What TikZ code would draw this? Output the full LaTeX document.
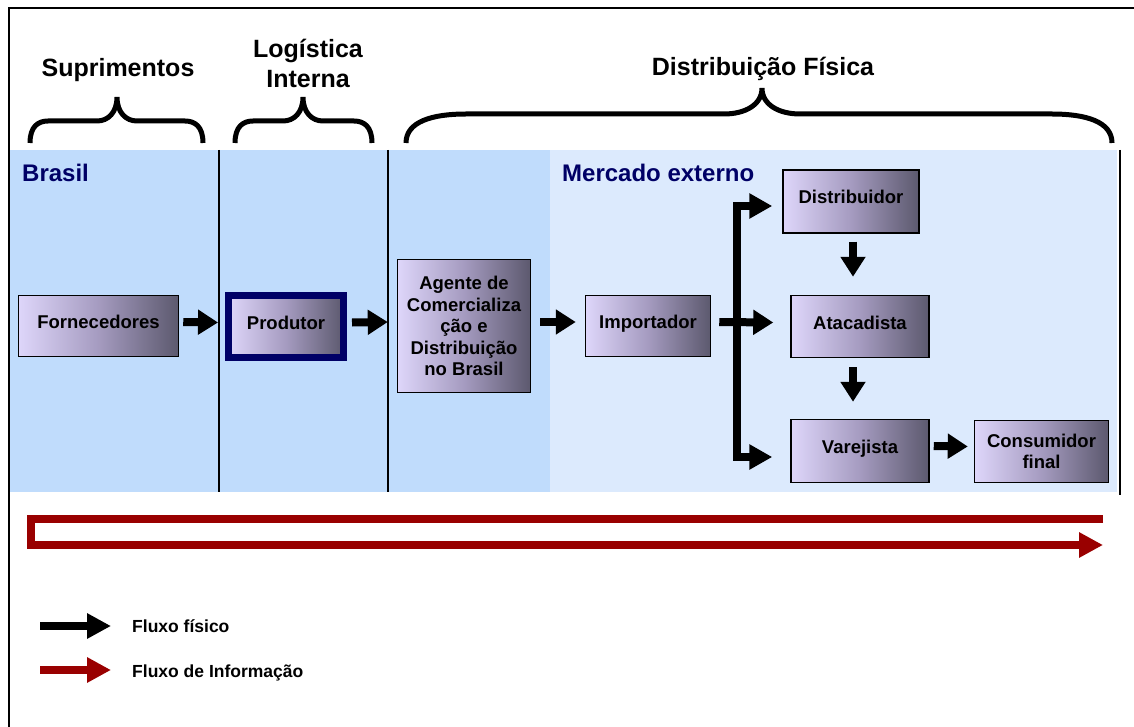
\documentclass[tikz,border=0pt]{standalone}
\usepackage{fontspec}
\setmainfont{Liberation Sans}
\usetikzlibrary{arrows.meta,calc}
\definecolor{bluedark}{RGB}{192,220,252}
\definecolor{bluelight}{RGB}{220,234,253}
\definecolor{navy}{RGB}{0,0,102}
\definecolor{lav}{RGB}{222,214,250}
\definecolor{midv}{RGB}{165,155,192}
\definecolor{dkv}{RGB}{92,89,110}
\definecolor{infored}{RGB}{153,0,0}
\newcommand{\mybrace}[8]{%
\draw[bracestyle] (#1,#4) .. controls ({#1},{#4-0.75*(#4-#5)}) and ({#1+0.45*#7},{#5}) .. ({#1+#7},{#5}) -- ({#3-#8},{#5}) .. controls ({#3-0.45*#8},{#5}) and ({#3},{#5-0.35*(#5-#6)}) .. ({#3},{#6}) .. controls ({#3},{#5-0.35*(#5-#6)}) and ({#3+0.45*#8},{#5}) .. ({#3+#8},{#5}) -- ({#2-#7},{#5}) .. controls ({#2-0.45*#7},{#5}) and ({#2},{#4-0.75*(#4-#5)}) .. (#2,#4);}
\tikzset{
  bracestyle/.style={line width=5pt},
  title/.style={font=\fontsize{25}{30}\selectfont\bfseries, inner sep=0pt, align=center},
  region/.style={font=\fontsize{24}{28}\selectfont\bfseries, text=navy, inner sep=0pt, anchor=base west},
  box/.style={draw=black, line width=1.5pt, left color=lav, right color=dkv, middle color=midv,
    font=\fontsize{18.5}{21.5}\selectfont\bfseries, align=center, inner sep=2pt},
  raised/.style={text height=13pt, text depth=8pt},
  farrow/.style={line width=8pt, -{Triangle[length=20pt,width=24pt]}},
  legendtext/.style={font=\fontsize{17.5}{20}\selectfont\bfseries, inner sep=0pt, anchor=base west}
}
\begin{document}
\begin{tikzpicture}[x=1pt,y=-1pt]
\useasboundingbox (0,0) rectangle (1134,727);
% background bands
\fill[bluedark] (9,150) rectangle (550,492);
\fill[bluelight] (550,150) rectangle (1117,492);
\draw[line width=1.5pt] (219,150) -- (219,492);
\draw[line width=1.5pt] (388,150) -- (388,492);
\draw[line width=2pt] (1120,150) -- (1120,495);
\draw[line width=2pt] (9,727) -- (9,8) -- (1134,8);
% titles and braces
\node[title, anchor=base] (tsup) at (118,77) {Suprimentos};
\node[title] (tlog) at (308,63) {Logística\\Interna};
\node[title, anchor=base] (tdis) at (763,76) {Distribuição Física};
\mybrace{30}{203}{117}{143}{121}{97}{18}{20}
\mybrace{235}{372}{303}{143}{121}{97}{18}{20}
\mybrace{406}{1112}{762}{143}{114}{88}{60}{38}
% region labels
\node[region] (lbr) at (22,182) {Brasil};
\node[region] (lme) at (562,182) {Mercado externo};
% boxes
\node[box, raised, minimum width=160pt, minimum height=61pt] (forn) at (98.5,326) {Fornecedores};
\node[box, raised, draw=navy, line width=7pt, minimum width=115pt, minimum height=62pt] (prod) at (286,326.5) {Produtor};
\node[box, minimum width=133pt, minimum height=133pt] (agen) at (464,326) {Agente de\\Comercializa\\ção e\\Distribuição\\no Brasil};
\node[box, raised, minimum width=125pt, minimum height=61pt] (imp) at (648,326) {Importador};
\node[box, raised, minimum width=136pt, minimum height=63pt] (dis) at (851,201.5) {Distribuidor};
\node[box, raised, minimum width=138pt, minimum height=62pt] (ata) at (860,326.5) {Atacadista};
\node[box, raised, minimum width=138pt, minimum height=63pt] (var) at (860,451) {Varejista};
\node[box, minimum width=134pt, minimum height=62pt] (con) at (1041.5,451.5) {Consumidor\\final};
% physical flow arrows
\draw[farrow] ([xshift=4pt,yshift=4pt]forn.east) -- ([xshift=-7pt,yshift=4pt]prod.west);
\draw[farrow] ([xshift=5pt,yshift=4pt]prod.east) -- ([xshift=-9pt,yshift=4pt]agen.west);
\draw[farrow] ([xshift=9pt,yshift=4pt]agen.east) -- ([xshift=-9pt,yshift=4pt]imp.west);
\draw[farrow] ([xshift=8pt,yshift=4pt]imp.east) -- ([xshift=-17pt,yshift=4pt]ata.west);
\coordinate (bt) at (737,206);
\coordinate (bb) at (737,457);
\draw[line width=8pt, line join=miter, {Triangle[length=23pt,width=24pt]}-{Triangle[length=23pt,width=24pt]}]
  ($(var.west|-bb)+(-18,0)$) -- (bb) -- (bt) -- ($(dis.west|-bt)+(-10,0)$);
\draw[farrow] ([xshift=2pt,yshift=-8pt]dis.south) -- ([xshift=-7pt,yshift=18pt]ata.north);
\draw[farrow] ([xshift=-7pt,yshift=-9pt]ata.south) -- ([xshift=-7pt,yshift=17pt]var.north);
\draw[farrow] ([xshift=4pt,yshift=5pt]var.east) -- ([xshift=-6pt,yshift=5pt]con.west);
% information flow
\coordinate (r1) at (1103,519);
\coordinate (r2) at (31,519);
\coordinate (r3) at (31,545);
\coordinate (r4) at (1103,545);
\draw[infored, line width=8pt, line join=miter, -{Triangle[length=24pt,width=24pt]}] (r1) -- (r2) -- (r3) -- (r4);
% legend
\coordinate (l1s) at (40,626);
\coordinate (l1e) at (111,626);
\coordinate (l2s) at (40,670);
\coordinate (l2e) at (111,670);
\draw[line width=8pt, -{Triangle[length=24pt,width=24pt]}] (l1s) -- (l1e);
\draw[infored, line width=8pt, -{Triangle[length=24pt,width=24pt]}] (l2s) -- (l2e);
\node[legendtext] (t1) at (132,632) {Fluxo físico};
\node[legendtext] (t2) at (132,677) {Fluxo de Informação};
\end{tikzpicture}
\end{document}
